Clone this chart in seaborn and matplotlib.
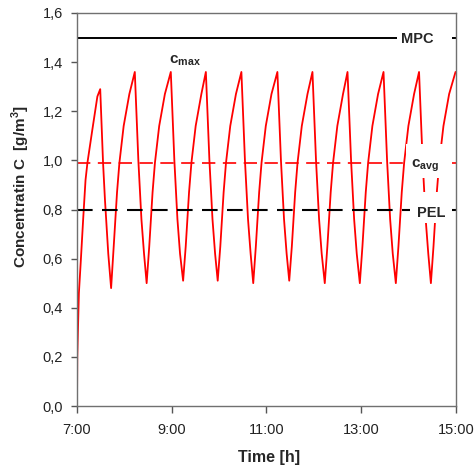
import pandas as pd
import numpy as np
import matplotlib
matplotlib.use("Agg")
import matplotlib.pyplot as plt
from matplotlib.patches import Rectangle
import seaborn as sns

# concentration curve (clock hours, g/m3)
time_h = [
    7.00, 7.006, 7.02, 7.04, 7.08, 7.13, 7.18, 7.22, 7.32, 7.43, 7.49,
    7.55, 7.59, 7.66, 7.72,
    7.775, 7.81, 7.845, 7.895, 7.985, 8.105, 8.22, 8.295, 8.36, 8.415, 8.47,
    8.525, 8.56, 8.595, 8.645, 8.735, 8.855, 8.98, 9.055, 9.12, 9.175, 9.24,
    9.295, 9.33, 9.365, 9.415, 9.505, 9.625, 9.72, 9.795, 9.86, 9.915, 9.97,
    10.025, 10.06, 10.095, 10.145, 10.235, 10.355, 10.47, 10.545, 10.61, 10.665, 10.72,
    10.775, 10.81, 10.845, 10.895, 10.985, 11.105, 11.23, 11.305, 11.37, 11.425, 11.48,
    11.535, 11.57, 11.605, 11.655, 11.745, 11.865, 11.97, 12.045, 12.11, 12.165, 12.23,
    12.285, 12.32, 12.355, 12.405, 12.495, 12.615, 12.71, 12.785, 12.85, 12.905, 12.97,
    13.025, 13.06, 13.095, 13.145, 13.235, 13.355, 13.47, 13.545, 13.61, 13.665, 13.73,
    13.785, 13.82, 13.855, 13.905, 13.995, 14.115, 14.22, 14.295, 14.36, 14.415, 14.47,
    14.525, 14.56, 14.595, 14.645, 14.735, 14.855, 14.99,
]
conc = [
    0.00, 0.20, 0.31, 0.46, 0.59, 0.76, 0.92, 0.99, 1.12, 1.26, 1.29,
    0.99, 0.84, 0.62, 0.48,
    0.65, 0.76, 0.87, 0.99, 1.14, 1.27, 1.36, 1.00, 0.76, 0.62, 0.50,
    0.65, 0.76, 0.87, 0.99, 1.14, 1.27, 1.36, 1.00, 0.76, 0.62, 0.51,
    0.65, 0.76, 0.87, 0.99, 1.14, 1.27, 1.36, 1.00, 0.76, 0.62, 0.51,
    0.65, 0.76, 0.87, 0.99, 1.14, 1.27, 1.36, 1.00, 0.76, 0.62, 0.50,
    0.65, 0.76, 0.87, 0.99, 1.14, 1.27, 1.36, 1.00, 0.76, 0.62, 0.51,
    0.65, 0.76, 0.87, 0.99, 1.14, 1.27, 1.36, 1.00, 0.76, 0.62, 0.50,
    0.65, 0.76, 0.87, 0.99, 1.14, 1.27, 1.36, 1.00, 0.76, 0.62, 0.50,
    0.65, 0.76, 0.87, 0.99, 1.14, 1.27, 1.36, 1.00, 0.76, 0.62, 0.50,
    0.65, 0.76, 0.87, 0.99, 1.14, 1.27, 1.36, 1.00, 0.76, 0.62, 0.50,
    0.65, 0.76, 0.87, 0.99, 1.14, 1.27, 1.36,
]

# reference levels
mpc_level = 1.5
c_avg = 0.99
pel_level = 0.8

x_ticks = [7, 9, 11, 13, 15]
x_ticklabels = ["7:00", "9:00", "11:00", "13:00", "15:00"]
y_ticks = [0.0, 0.2, 0.4, 0.6, 0.8, 1.0, 1.2, 1.4, 1.6]
y_ticklabels = ["0,0", "0,2", "0,4", "0,6", "0,8", "1,0", "1,2", "1,4", "1,6"]

df = pd.DataFrame({"time": time_h, "conc": conc})

sns.set_style("ticks")
plt.rcParams["font.family"] = ["Liberation Sans", "DejaVu Sans"]
plt.rcParams["mathtext.fontset"] = "custom"
plt.rcParams["mathtext.rm"] = "Liberation Sans"
plt.rcParams["mathtext.bf"] = "Liberation Sans:bold"

fig = plt.figure(figsize=(4.77, 4.72), dpi=100)
ax = fig.add_axes([77 / 477, 1 - 406 / 472, 379 / 477, 393 / 472])

sns.lineplot(data=df, x="time", y="conc", sort=False, estimator=None,
             color="#ff0000", lw=1.3, ax=ax, zorder=2)

ax.axhline(mpc_level, color="black", lw=1.4, zorder=2)
ax.axhline(c_avg, color="#ff0000", lw=1.2, linestyle=(0, (8, 4.5)), zorder=2)
ax.axhline(pel_level, color="black", lw=1.5, linestyle=(0, (7.5, 4.5)), zorder=2)

# white boxes behind the line labels
for x0, x1, y0, y1 in [(13.755, 14.916, 1.46, 1.54),
                       (13.945, 14.87, 0.93, 1.065),
                       (14.03, 14.87, 0.745, 0.873)]:
    ax.add_patch(Rectangle((x0, y0), x1 - x0, y1 - y0, facecolor="white",
                           edgecolor="none", zorder=3))

ax.text(13.833, 1.477, "MPC", fontsize=10.5, fontweight="bold", zorder=4)
ax.text(14.183, 0.771, "PEL", fontsize=10.5, fontweight="bold", zorder=4)
ax.text(8.94, 1.395, r"$\mathbf{c}_{\mathbf{max}}$", fontsize=11, zorder=4)
ax.text(14.04, 0.973, r"$\mathbf{c}_{\mathbf{avg}}$", fontsize=11, zorder=4)

ax.set_xlim(7, 15)
ax.set_ylim(0, 1.6)
ax.set_xticks(x_ticks)
ax.set_xticklabels(x_ticklabels)
ax.set_yticks(y_ticks)
ax.set_yticklabels(y_ticklabels)
ax.tick_params(axis="x", length=5, width=1, color="#555555", pad=7,
               labelsize=10.5, labelcolor="#222222")
ax.tick_params(axis="y", length=4, width=1, color="#555555", pad=6,
               labelsize=10.5, labelcolor="#222222")
for s in ax.spines.values():
    s.set_color("#707070")
    s.set_linewidth(1)
    s.set_visible(True)

ax.set_xlabel("Time [h]", fontsize=11.5, fontweight="bold")
ax.set_ylabel("Concentratin C  [g/m$^{\\mathbf{3}}$]", fontsize=11,
              fontweight="bold")
ax.xaxis.set_label_coords(0.5066, -0.112)
ax.yaxis.set_label_coords(-0.12, 0.558)

fig.savefig("out.png", dpi=100)
